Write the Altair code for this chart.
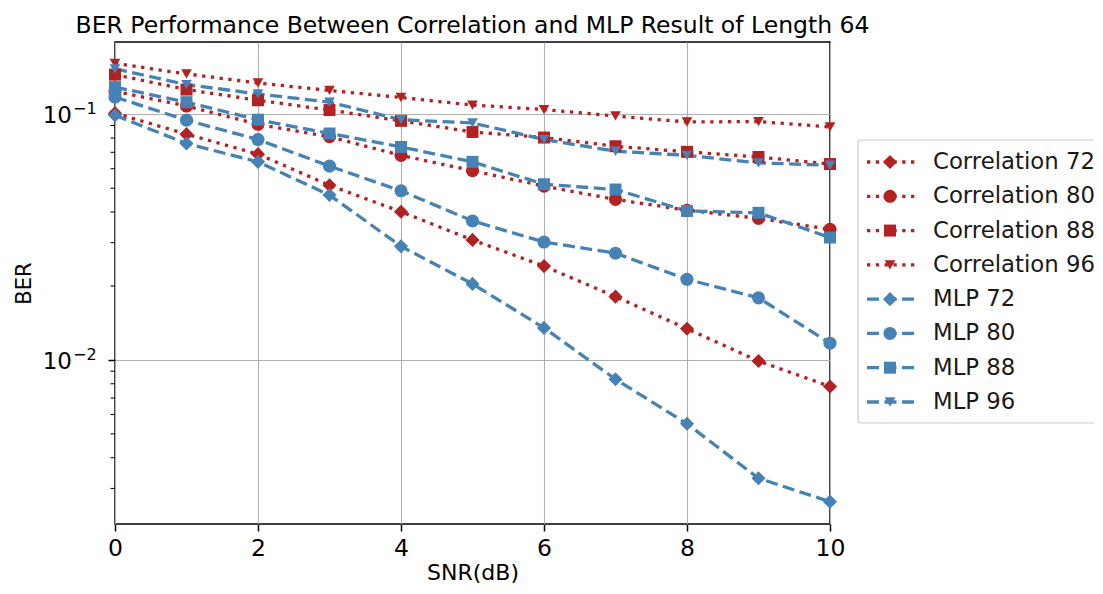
import altair as alt
import pandas as pd

# ---------------- data ----------------
snr = [0, 1, 2, 3, 4, 5, 6, 7, 8, 9, 10]

corr72 = [0.101, 0.083, 0.0688, 0.0514, 0.0401, 0.0308, 0.0241, 0.0181, 0.0134, 0.0099, 0.0078]
corr80 = [0.124, 0.108, 0.091, 0.081, 0.068, 0.0589, 0.051, 0.045, 0.0407, 0.0377, 0.034]
corr88 = [0.145, 0.126, 0.114, 0.104, 0.094, 0.0847, 0.0804, 0.0741, 0.0703, 0.067, 0.0627]
corr96 = [0.161, 0.146, 0.134, 0.125, 0.117, 0.109, 0.1045, 0.0984, 0.093, 0.0934, 0.0888]

mlp72 = [0.099, 0.076, 0.064, 0.0469, 0.029, 0.0204, 0.0135, 0.00835, 0.0055, 0.0033, 0.00265]
mlp80 = [0.1175, 0.0946, 0.0789, 0.0615, 0.0488, 0.0368, 0.0302, 0.0272, 0.0213, 0.0179, 0.0117]
mlp88 = [0.129, 0.112, 0.095, 0.0835, 0.0736, 0.064, 0.0519, 0.0494, 0.0404, 0.0397, 0.0315]
mlp96 = [0.153, 0.132, 0.121, 0.112, 0.095, 0.0922, 0.0789, 0.0707, 0.068, 0.0634, 0.062]

methods = ["Correlation", "MLP"]
lengths = ["72", "80", "88", "96"]
series_values = {
    ("Correlation", "72"): corr72,
    ("Correlation", "80"): corr80,
    ("Correlation", "88"): corr88,
    ("Correlation", "96"): corr96,
    ("MLP", "72"): mlp72,
    ("MLP", "80"): mlp80,
    ("MLP", "88"): mlp88,
    ("MLP", "96"): mlp96,
}
legend_labels = [f"{m} {l}" for m in methods for l in lengths]
major_ticks = [0.01, 0.1]
major_exps = ["−2", "−1"]
minor_ticks = [0.003, 0.004, 0.005, 0.006, 0.007, 0.008, 0.009,
               0.02, 0.03, 0.04, 0.05, 0.06, 0.07, 0.08, 0.09]
x_ticks = [0, 2, 4, 6, 8, 10]

# ---------------- tables ----------------
rows = []
for (m, l), vals in series_values.items():
    for x, v in zip(snr, vals):
        rows.append({"snr": x, "ber": v, "method": m, "length": l, "series": f"{m} {l}"})
df = pd.DataFrame(rows)
leg_df = pd.DataFrame([{"label": f"{m} {l}", "method": m, "length": l}
                       for m in methods for l in lengths])
minor_df = pd.DataFrame({"ber": minor_ticks})
major_df = pd.DataFrame({"ber": major_ticks, "exp": major_exps})

RED = "#b22222"
BLUE = "#4682b4"
FONT = "DejaVu Sans"
W, H = 715, 482

xscale = alt.Scale(domain=[0, 10], nice=False, zero=False)
yscale = alt.Scale(type="log", domain=[0.00215, 0.1968], nice=False)
color_enc = alt.Color("method:N", scale=alt.Scale(domain=methods, range=[RED, BLUE]), legend=None)
shape_enc = alt.Shape("length:N", scale=alt.Scale(domain=lengths,
                      range=["diamond", "circle", "square", "triangle-down"]), legend=None)
size_enc = alt.Size("length:N", scale=alt.Scale(domain=lengths, range=[200, 115, 105, 125]), legend=None)

x_enc = alt.X("snr:Q", scale=xscale,
              axis=alt.Axis(values=x_ticks, format="d", grid=True, title="SNR(dB)",
                            tickSize=7, labelPadding=5, titlePadding=3, labelFlush=False,
                            titleFontSize=22))
y_enc = alt.Y("ber:Q", scale=yscale,
              axis=alt.Axis(values=major_ticks, grid=True, title="BER", labels=False,
                            tickSize=7, titlePadding=73))

base = alt.Chart(df)
corr_lines = base.transform_filter(alt.datum.method == "Correlation").mark_line(
    color=RED, strokeWidth=3.3, strokeDash=[3.3, 5.5]
).encode(x=x_enc, y=y_enc, detail="series:N")
mlp_lines = base.transform_filter(alt.datum.method == "MLP").mark_line(
    color=BLUE, strokeWidth=3.3, strokeDash=[12, 5.5]
).encode(x=x_enc, y=y_enc, detail="series:N")
points = base.mark_point(filled=True, opacity=1).encode(
    x=x_enc, y=y_enc, color=color_enc, shape=shape_enc, size=size_enc)
minor = alt.Chart(minor_df).mark_rule(color="black", strokeWidth=1).encode(
    y=alt.Y("ber:Q", scale=yscale), x=alt.value(-4.5), x2=alt.value(0))
# y tick labels drawn as 10 with a raised exponent
ylab_base = alt.Chart(major_df).mark_text(
    align="right", baseline="middle", fontSize=23, font=FONT, color="black", dy=2
).encode(y=alt.Y("ber:Q", scale=yscale), x=alt.value(-43), text=alt.value("10"))
ylab_exp = alt.Chart(major_df).mark_text(
    align="left", baseline="middle", fontSize=16, font=FONT, color="black", dy=-5
).encode(y=alt.Y("ber:Q", scale=yscale), x=alt.value(-42), text="exp:N")

main = alt.layer(corr_lines, mlp_lines, points, minor, ylab_base, ylab_exp)

# ---------------- legend ----------------
leg_y = alt.Y("label:N", scale=alt.Scale(type="point", domain=legend_labels,
                                         range=[120, 360], padding=0), axis=None)
box = alt.Chart(alt.Data(values=[{"k": 1}])).mark_rect(
    fill="white", stroke="#cccccc", strokeWidth=1.2, cornerRadius=3
).encode(x=alt.value(743), x2=alt.value(1010), y=alt.value(98), y2=alt.value(381))
leg = alt.Chart(leg_df)
leg_corr = leg.transform_filter(alt.datum.method == "Correlation").mark_rule(
    color=RED, strokeWidth=3.3, strokeDash=[3.3, 5.5]
).encode(y=leg_y, x=alt.value(752), x2=alt.value(800))
leg_mlp = leg.transform_filter(alt.datum.method == "MLP").mark_rule(
    color=BLUE, strokeWidth=3.3, strokeDash=[12, 5.5]
).encode(y=leg_y, x=alt.value(752), x2=alt.value(800))
leg_pts = leg.mark_point(filled=True, opacity=1).encode(
    y=leg_y, x=alt.value(775), color=color_enc, shape=shape_enc, size=size_enc)
leg_txt = leg.mark_text(align="left", baseline="middle", fontSize=22.8, font=FONT,
                        color="#1a1a1a").encode(y=leg_y, x=alt.value(818), text="label:N")
legend = alt.layer(box, leg_corr, leg_mlp, leg_pts, leg_txt)

chart = alt.layer(main, legend).resolve_scale(y="independent", x="independent").properties(
    width=W, height=H,
    autosize=alt.AutoSizeParams(type="none"),
    padding={"left": 107, "top": 34, "right": 264, "bottom": 62},
    title=alt.TitleParams("BER Performance Between Correlation and MLP Result of Length 64",
                          fontSize=23.5, font=FONT, fontWeight="normal", color="black",
                          anchor="middle", frame="group", offset=5),
).configure_view(stroke="black", strokeWidth=1.5).configure_axis(
    labelFont=FONT, titleFont=FONT, labelFontSize=23.5, titleFontSize=21,
    titleFontWeight="normal", labelColor="black", titleColor="black",
    tickColor="black", tickWidth=1.5, domain=False,
    gridColor="#b0b0b0", gridWidth=1.1, gridOpacity=1,
)

chart.save("out.html", embed_options={"renderer": "svg", "actions": False})
